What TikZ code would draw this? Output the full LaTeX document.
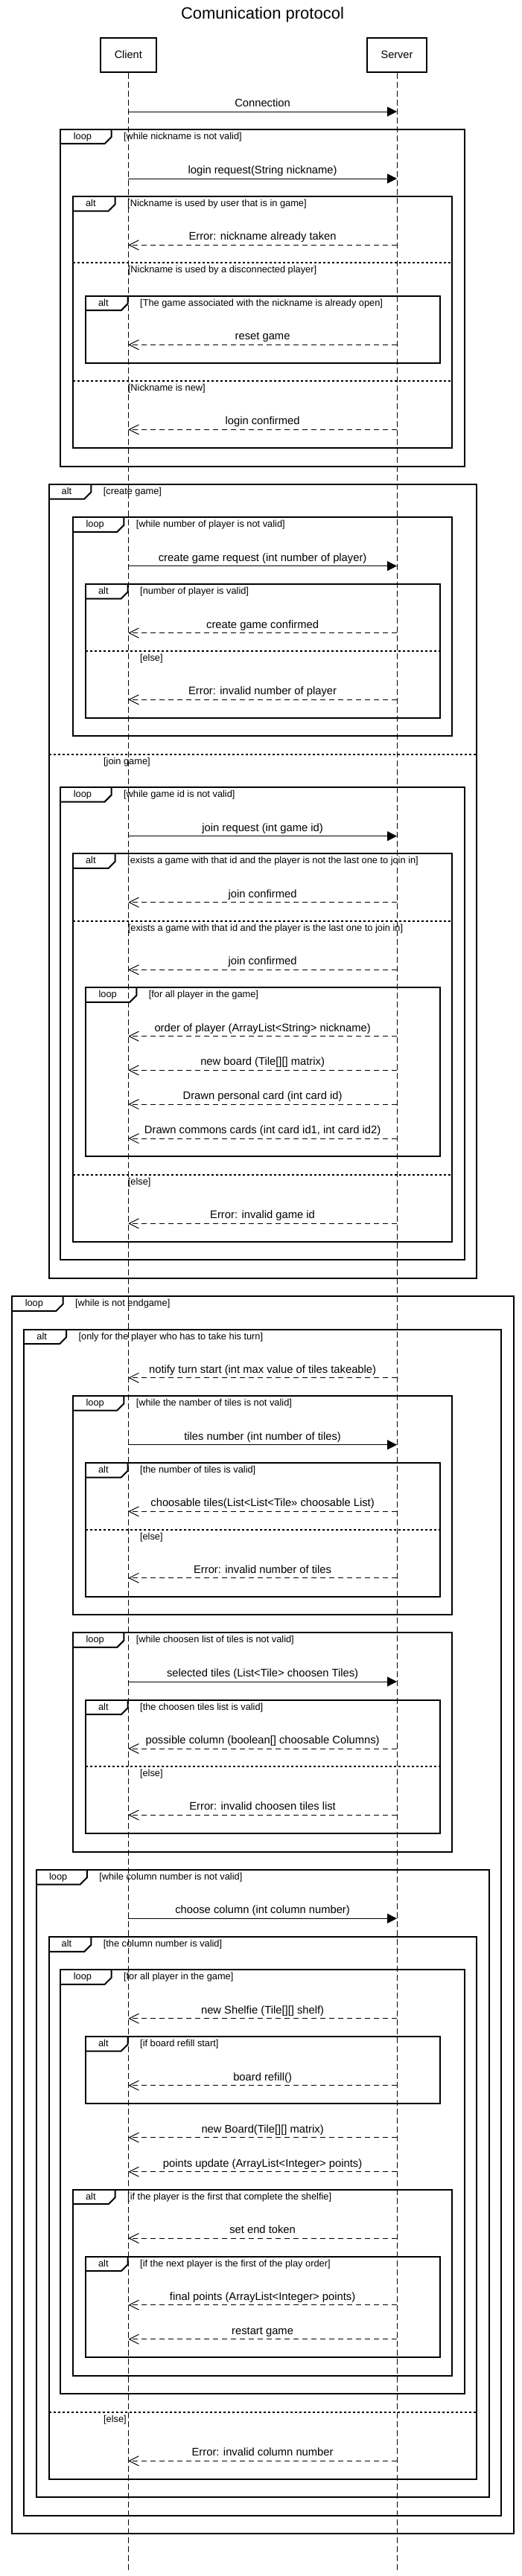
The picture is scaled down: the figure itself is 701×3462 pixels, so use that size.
\documentclass[tikz,border=0pt]{standalone}
\usepackage{fontspec}
\setmainfont{Liberation Sans}
\usetikzlibrary{arrows.meta}
\def\cx{172.3}
\def\sx{533}
\def\mx{352.6}
\tikzset{
 framebox/.style={draw=black, line width=2pt},
 sepline/.style={draw=black, line width=2pt, dash pattern=on 3pt off 3pt},
 lifeline/.style={draw=black, line width=1pt, dash pattern=on 8pt off 4pt},
 syncmsg/.style={draw=black, line width=1pt, -{Triangle[length=13pt,width=13pt]}},
 retmsg/.style={draw=black, line width=1pt, dash pattern=on 7pt off 5pt, -{Straight Barb[length=13pt,width=13pt]}},
 msglabel/.style={font=\fontsize{14.75}{17}\selectfont, anchor=base, inner sep=0pt},
 guardtext/.style={font=\fontsize{12.8}{15}\selectfont, anchor=base west, inner sep=0pt},
 taglabel/.style={font=\fontsize{12.8}{15}\selectfont, anchor=base, inner sep=0pt},
 actor/.style={draw=black, line width=2pt, minimum height=45.7pt, font=\fontsize{14.5}{17}\selectfont, inner sep=0pt}
}
% #1 name, #2 L, #3 T, #4 R, #5 B, #6 tab width, #7 tag, #8 guard
\newcommand{\umlframe}[8]{%
 \draw[framebox] (#2,#3) rectangle (#4,#5);
 \draw[framebox] (#2,#3+19.5) -- (#2+#6-9,#3+19.5) -- (#2+#6,#3+10.5) -- (#2+#6,#3);
 \node[taglabel] (#1tag) at (#2+#6/2-4.5,#3+13.3) {#7};
 \node[guardtext] (#1guard) at (#2+#6+16.3,#3+13.3) {#8};
}
% #1 name, #2 L, #3 R, #4 y, #5 guard x, #6 text
\newcommand{\umlsep}[6]{%
 \draw[sepline] (#2,#4) -- (#3,#4);
 \node[guardtext] (#1) at (#5,#4+13.5) {#6};
}
\newcommand{\syncm}[3]{%
 \coordinate (#1c) at (\cx,#2);
 \coordinate (#1s) at (\sx,#2);
 \draw[syncmsg] (#1c) -- (#1s);
 \node[msglabel] (#1l) at (\mx,#2-6.7) {#3};
}
\newcommand{\retm}[3]{%
 \coordinate (#1c) at (\cx,#2);
 \coordinate (#1s) at (\sx,#2);
 \draw[retmsg] (#1s) -- (#1c);
 \node[msglabel] (#1l) at (\mx,#2-6.7) {#3};
}
\begin{document}
\begin{tikzpicture}[x=1pt,y=-1pt]
\useasboundingbox (0,0) rectangle (701,3462);
\node[font=\fontsize{22}{26}\selectfont, anchor=base, inner sep=0pt] (title) at (352.5,25) {Comunication protocol};
\node[actor, minimum width=75pt] (client) at (\cx,73.8) {Client};
\node[actor, minimum width=80pt] (server) at (\sx,73.8) {Server};
\coordinate (clientend) at (\cx,3456.7);
\coordinate (serverend) at (\sx,3456.7);
\draw[lifeline] (client.south) -- (clientend);
\draw[lifeline] (server.south) -- (serverend);

% login
\syncm{m1}{150}{Connection}
\umlframe{f1}{81.3}{173.7}{623.8}{626.7}{68.3}{loop}{[while nickname is not valid]}
\syncm{m2}{240}{login request(String nickname)}
\umlframe{f2}{98}{264}{607}{602}{56.7}{alt}{[Nickname is used by user that is in game]}
\retm{m3}{329.3}{Error: nickname already taken}
\umlsep{s21}{98}{607}{353.3}{171.7}{[Nickname is used by a disconnected player]}
\umlframe{f3}{115}{397.7}{590.5}{487.7}{56.7}{alt}{[The game associated with the nickname is already open]}
\retm{m4}{463.3}{reset game}
\umlsep{s22}{98}{607}{512}{171.7}{[Nickname is new]}
\retm{m5}{577.3}{login confirmed}

% create / join game
\umlframe{f4}{65.6}{651}{640}{1717.7}{56.7}{alt}{[create game]}
\umlframe{f5}{98}{695.3}{607}{989}{68.3}{loop}{[while number of player is not valid]}
\syncm{m6}{760.7}{create game request (int number of player)}
\umlframe{f6}{115}{785}{590.5}{965}{56.7}{alt}{[number of player is valid]}
\retm{m7}{850.7}{create game confirmed}
\umlsep{s61}{115}{590.5}{874.7}{187.8}{[else]}
\retm{m8}{940.3}{Error: invalid number of player}
\umlsep{s41}{65.6}{640}{1014}{138.9}{[join game]}
\umlframe{f7}{81.3}{1058}{623.8}{1693.3}{68.3}{loop}{[while game id is not valid]}
\syncm{m9}{1123.7}{join request (int game id)}
\umlframe{f8}{98}{1147.3}{607}{1669}{56.7}{alt}{[exists a game with that id and the player is not the last one to join in]}
\retm{m10}{1212.7}{join confirmed}
\umlsep{s81}{98}{607}{1237.7}{171.7}{[exists a game with that id and the player is the last one to join in]}
\retm{m11}{1303.3}{join confirmed}
\umlframe{f9}{115}{1327.3}{590.5}{1554.3}{68.3}{loop}{[for all player in the game]}
\retm{m12}{1392.7}{order of player (ArrayList<String> nickname)}
\retm{m13}{1438.3}{new board (Tile[][] matrix)}
\retm{m14}{1484}{Drawn personal card (int card id)}
\retm{m15}{1530}{Drawn commons cards (int card id1, int card id2)}
\umlsep{s82}{98}{607}{1578.7}{171.7}{[else]}
\retm{m16}{1644.3}{Error: invalid game id}

% game loop
\umlframe{f10}{16.2}{1742.3}{689.8}{3405}{68.3}{loop}{[while is not endgame]}
\umlframe{f11}{32.4}{1786.7}{673.2}{3380.7}{56.7}{alt}{[only for the player who has to take his turn]}
\retm{m17}{1851.7}{notify turn start (int max value of tiles takeable)}
\umlframe{f12}{98}{1876}{607}{2170}{68.3}{loop}{[while the namber of tiles is not valid]}
\syncm{m18}{1941.7}{tiles number (int number of tiles)}
\umlframe{f13}{115}{1966}{590.5}{2145.7}{56.7}{alt}{[the number of tiles is valid]}
\retm{m19}{2031.3}{choosable tiles(List<List<Tile>> choosable List)}
\umlsep{s131}{115}{590.5}{2055.7}{187.8}{[else]}
\retm{m20}{2120.7}{Error: invalid number of tiles}
\umlframe{f14}{98}{2194.3}{607}{2488.7}{68.3}{loop}{[while choosen list of tiles is not valid]}
\syncm{m21}{2260}{selected tiles (List<Tile> choosen Tiles)}
\umlframe{f15}{115}{2284.7}{590.5}{2464.3}{56.7}{alt}{[the choosen tiles list is valid]}
\retm{m22}{2350}{possible column (boolean[] choosable Columns)}
\umlsep{s151}{115}{590.5}{2374}{187.8}{[else]}
\retm{m23}{2439.3}{Error: invalid choosen tiles list}
\umlframe{f16}{48.5}{2513}{656.6}{3356}{68.3}{loop}{[while column number is not valid]}
\syncm{m24}{2578.3}{choose column (int column number)}
\umlframe{f17}{65.6}{2603.3}{640}{3331.7}{56.7}{alt}{[the column number is valid]}
\umlframe{f18}{81.3}{2647.3}{623.8}{3216.7}{68.3}{loop}{[for all player in the game]}
\retm{m25}{2712.7}{new Shelfie (Tile[][] shelf)}
\umlframe{f19}{115}{2737}{590.5}{2827}{56.7}{alt}{[if board refill start]}
\retm{m26}{2802.7}{board refill()}
\retm{m27}{2872.7}{new Board(Tile[][] matrix)}
\retm{m28}{2918.7}{points update (ArrayList<Integer> points)}
\umlframe{f20}{98}{2942.7}{607}{3192.7}{56.7}{alt}{[if the player is the first that complete the shelfie]}
\retm{m29}{3008}{set end token}
\umlframe{f21}{115}{3032.7}{590.5}{3168.3}{56.7}{alt}{[if the next player is the first of the play order]}
\retm{m30}{3097.7}{final points (ArrayList<Integer> points)}
\retm{m31}{3143.7}{restart game}
\umlsep{s171}{65.6}{640}{3242}{138.9}{[else]}
\retm{m32}{3307.3}{Error: invalid column number}
\end{tikzpicture}
\end{document}
